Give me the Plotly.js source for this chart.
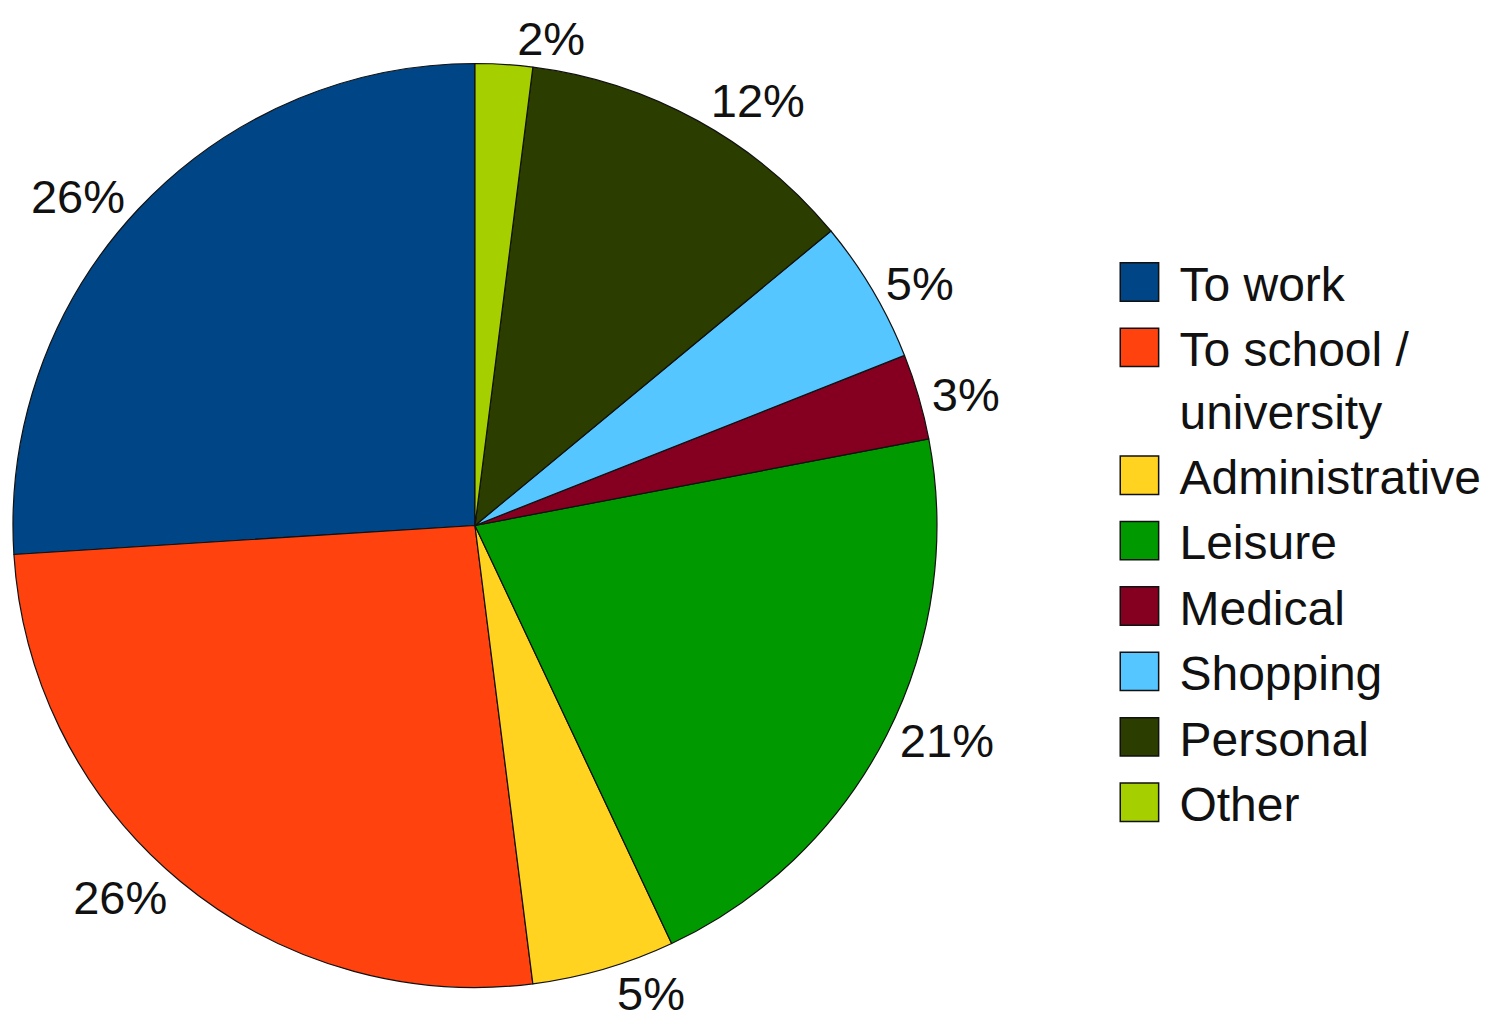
<!DOCTYPE html>
<html>
<head>
<meta charset="utf-8">
<script src="https://cdn.plot.ly/plotly-3.0.1.min.js"></script>
<style>
  html, body { margin: 0; padding: 0; background: #ffffff; }
  #chart { width: 1510px; height: 1033px; }
</style>
</head>
<body>
<div id="chart"></div>
<script>
// Trip purposes (percent of trips)
const categories = ["To work", "To school /<br>university", "Administrative", "Leisure", "Medical", "Shopping", "Personal", "Other"];
const shares = [26, 26, 5, 21, 3, 5, 12, 2];
const sliceColors = ["#004586", "#ff420e", "#ffd320", "#009a00", "#850020", "#55c6ff", "#2b3e00", "#a6cf00"];

const trace = {
  type: "pie",
  labels: categories,
  values: shares,
  sort: false,
  direction: "counterclockwise",
  rotation: -93.6,
  marker: { colors: sliceColors, line: { color: "#111111", width: 1.2 } },
  texttemplate: "%{value}%",
  textposition: "outside",
  textfont: { family: "Liberation Sans, Arial, sans-serif", size: 47, color: "#111111" },
  hoverinfo: "label+percent",
  domain: { x: [0.0086, 0.6205], y: [0.0436, 0.939] }
};

const layout = {
  width: 1510,
  height: 1033,
  margin: { l: 0, r: 0, t: 0, b: 0 },
  paper_bgcolor: "#ffffff",
  font: { family: "Liberation Sans, Arial, sans-serif", color: "#111111" },
  showlegend: true,
  legend: {
    x: 0.7546, xanchor: "left",
    y: 0.475, yanchor: "middle",
    font: { family: "Liberation Sans, Arial, sans-serif", size: 48, color: "#111111" },
    valign: "top",
    bgcolor: "rgba(0,0,0,0)",
    tracegroupgap: 0
  }
};

Plotly.newPlot("chart", [trace], layout, { displayModeBar: false, staticPlot: true }).then(function (gd) {
  // let the enlarged keys extend beyond the legend's clip box
  gd.querySelectorAll(".legend .scrollbox").forEach(function (g) { g.removeAttribute("clip-path"); });
  // enlarge legend swatches to match the square keys of the reference
  gd.querySelectorAll(".legendpoints path.legendpie").forEach(function (p) {
    p.setAttribute("transform", "translate(0,0) scale(3.2)");
    p.setAttribute("vector-effect", "non-scaling-stroke");
    p.style.strokeWidth = "1.5px";
    p.style.stroke = "#111111";
  });
});
</script>
</body>
</html>
